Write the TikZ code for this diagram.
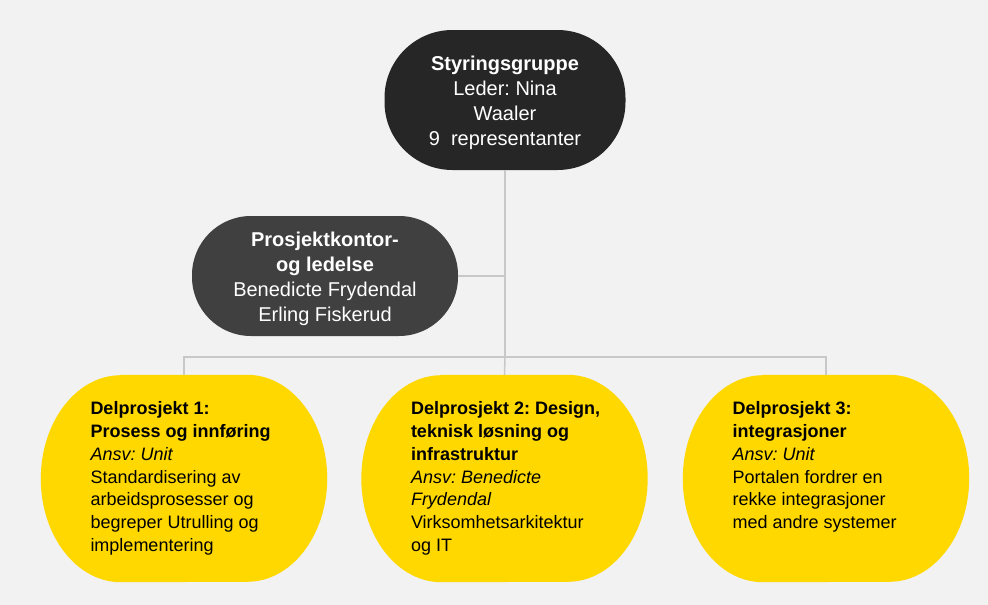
\documentclass[tikz,border=0pt]{standalone}
\usepackage{fontspec}
\usetikzlibrary{backgrounds}
\setmainfont{Liberation Sans}
\definecolor{bg}{HTML}{F2F2F2}
\definecolor{darktop}{HTML}{262626}
\definecolor{darkmid}{HTML}{404040}
\definecolor{unityellow}{HTML}{FFD800}
\definecolor{connline}{HTML}{C8C8C8}
\tikzset{
  darkbox/.style={text=white, inner sep=0pt,
    font=\fontsize{20}{25}\selectfont},
  yellowbox/.style={text=black, inner sep=0pt,
    minimum width=286pt, minimum height=207pt,
    font=\fontsize{18}{22.7}\selectfont},
  conn/.style={draw=connline, line width=1.5pt}
}
\newcommand{\ybtext}[1]{\makebox[187pt][l]{\begin{tabular}{@{}l@{}}#1\end{tabular}}}
\newcommand{\dbtext}[1]{\raisebox{0pt}[\dimexpr\height+6pt\relax][\depth]{\begin{tabular}{@{}c@{}}#1\end{tabular}}}
\newcommand{\yblob}[1]{%
  \fill[unityellow] ([xshift=80pt]#1.north west) -- ([xshift=-80pt]#1.north east)
    arc[start angle=90, end angle=-90, x radius=80pt, y radius=103.5pt]
    -- ([xshift=80pt]#1.south west)
    arc[start angle=270, end angle=90, x radius=80pt, y radius=103.5pt] -- cycle;}
\frenchspacing
\begin{document}
\begin{tikzpicture}[x=1pt, y=-1pt]
\begin{scope}[on background layer]
\fill[bg] (0,0) rectangle (988,605);
\end{scope}
\useasboundingbox (0,0) rectangle (988,605);

\node[darkbox, fill=darktop, minimum width=241pt, minimum height=140pt,
  rounded corners=68pt] (top) at (505,100)
  {\dbtext{\textbf{Styringsgruppe}\\Leder: Nina\\Waaler\\9\ \ representanter}};

\node[darkbox, fill=darkmid, minimum width=266pt, minimum height=120pt,
  rounded corners=59pt] (mid) at (325,276)
  {\dbtext{\textbf{Prosjektkontor-}\\\textbf{og ledelse}\\Benedicte Frydendal\\Erling Fiskerud}};

\node[yellowbox] (d1) at (184,478.5)
  {\ybtext{\textbf{Delprosjekt 1:}\\\textbf{Prosess og innføring}\\\textit{Ansv: Unit}\\Standardisering av\\arbeidsprosesser og\\begreper Utrulling og\\implementering}};
\node[yellowbox] (d2) at (504.5,478.5)
  {\ybtext{\textbf{Delprosjekt 2: Design,}\\\textbf{teknisk løsning og}\\\textbf{infrastruktur}\\\textit{Ansv: Benedicte}\\\textit{Frydendal}\\Virksomhetsarkitektur\\og IT}};
\node[yellowbox] (d3) at (826,478.5)
  {\ybtext{\textbf{Delprosjekt 3:}\\\textbf{integrasjoner}\\\textit{Ansv: Unit}\\Portalen fordrer en\\rekke integrasjoner\\med andre systemer\\\mbox{}}};

\begin{scope}[on background layer]
\yblob{d1}
\yblob{d2}
\yblob{d3}
\end{scope}

\coordinate (bus) at (505,357);
\draw[conn] (top.south) -- (bus);
\draw[conn] (mid.east) -- (mid.east -| bus);
\draw[conn] (d1.north) |- (bus) -| (d3.north);
\draw[conn] (bus) -- (d2.north);
\end{tikzpicture}
\end{document}
